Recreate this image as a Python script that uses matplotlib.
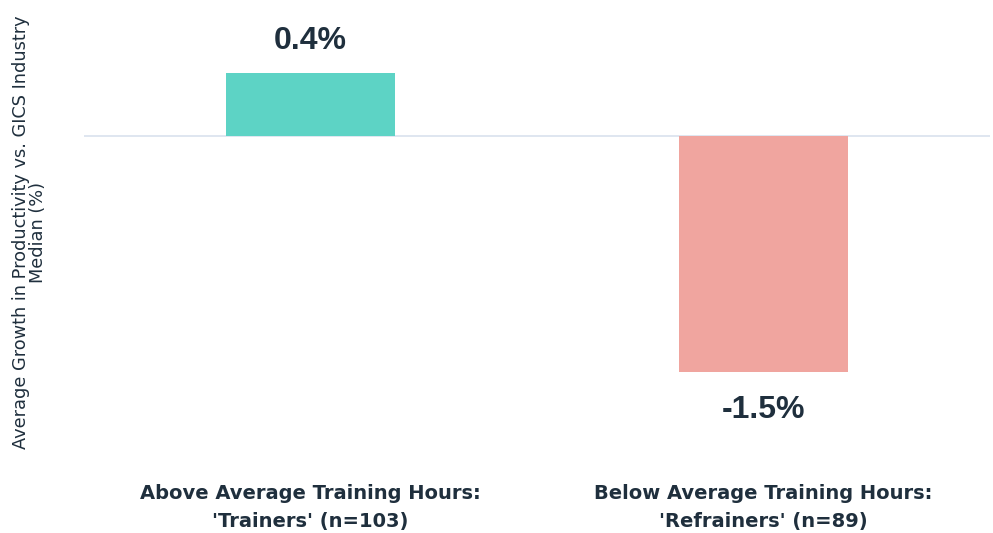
import matplotlib.pyplot as plt

categories = ["Above Average Training Hours:\n'Trainers' (n=103)",
              "Below Average Training Hours:\n'Refrainers' (n=89)"]
values = [0.4, -1.5]
value_labels = ["0.4%", "-1.5%"]
colors = ["#5DD3C5", "#F0A59F"]

text_color = "#1F2F3D"

fig = plt.figure(figsize=(9.93, 5.33), dpi=100)
ax = fig.add_axes([0.0846, 0.1463, 0.9124, 0.835])

x = range(len(categories))
ax.bar(x, values, width=0.373, color=colors, zorder=2)
ax.axhline(0, color="#D9E2EE", linewidth=1.2, zorder=1)

for i, v in enumerate(values):
    off = 0.2 if v > 0 else -0.245
    ax.text(i, v + off, value_labels[i], ha="center", va="center",
            fontsize=23, fontweight="bold", color=text_color,
            family="Liberation Sans")

ax.set_xlim(-0.5, 1.5)
ax.set_ylim(-2.03, 0.8)
ax.set_xticks(list(x))
ax.set_xticklabels(categories, fontsize=14, fontweight="bold", color=text_color,
                   linespacing=1.6)
ax.tick_params(axis="x", length=0, pad=21)
ax.set_yticks([])
for s in ax.spines.values():
    s.set_visible(False)

ax.set_ylabel("Average Growth in Productivity vs. GICS Industry\nMedian (%)",
              fontsize=12.8, color=text_color, linespacing=0.95)
ax.yaxis.set_label_coords(-0.041, 0.5)

fig.savefig("out.png", dpi=100)
